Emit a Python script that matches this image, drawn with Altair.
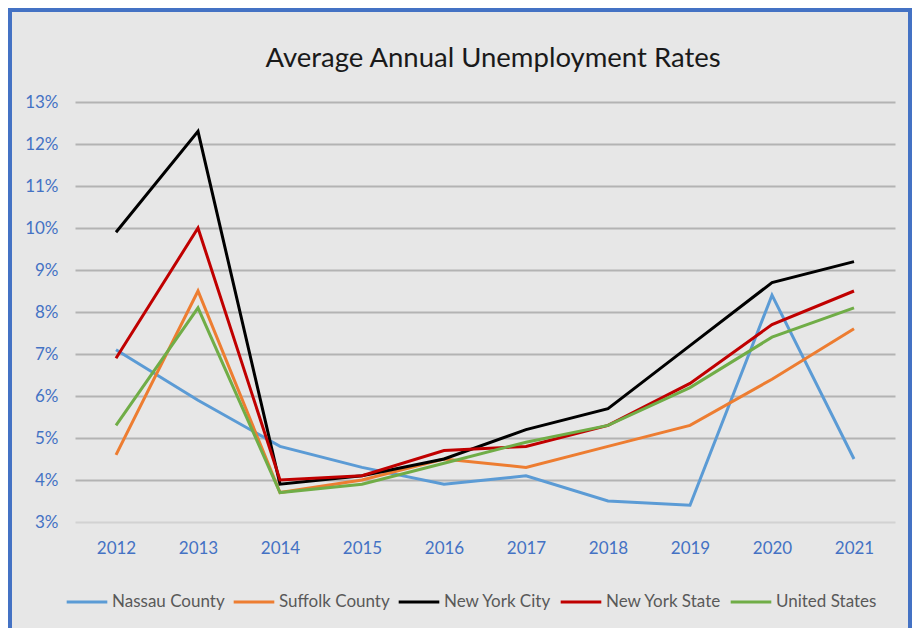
import altair as alt
import pandas as pd

years = ["2012", "2013", "2014", "2015", "2016", "2017", "2018", "2019", "2020", "2021"]
series_names = ["Nassau County", "Suffolk County", "New York City", "New York State", "United States"]
nassau = [7.1, 5.9, 4.8, 4.3, 3.9, 4.1, 3.5, 3.4, 8.4, 4.5]
suffolk = [4.6, 8.5, 3.7, 4.0, 4.5, 4.3, 4.8, 5.3, 6.4, 7.6]
nyc = [9.9, 12.3, 3.9, 4.1, 4.5, 5.2, 5.7, 7.2, 8.7, 9.2]
nys = [6.9, 10.0, 4.0, 4.1, 4.7, 4.8, 5.3, 6.3, 7.7, 8.5]
us = [5.3, 8.1, 3.7, 3.9, 4.4, 4.9, 5.3, 6.2, 7.4, 8.1]
colors = ["#5b9bd5", "#ed7d31", "#000000", "#c00000", "#70ad47"]
y_ticks = [3, 4, 5, 6, 7, 8, 9, 10, 11, 12, 13]
title_text = "Average Annual Unemployment Rates"

rows = []
for name, vals in zip(series_names, [nassau, suffolk, nyc, nys, us]):
    for i, (yr, v) in enumerate(zip(years, vals)):
        rows.append({"Year": yr, "Series": name, "Rate": v, "idx": i})
df = pd.DataFrame(rows)

FONT = "Lato, sans-serif"
W, H = 820, 420
PL, PT = 67, 94
TOTAL_W, TOTAL_H = 904, 620
PR, PB = TOTAL_W - PL - W, TOTAL_H - PT - H

lines = alt.Chart(df).mark_line(strokeWidth=3, clip=False).encode(
    x=alt.X("Year:O", sort=years, title=None,
            scale=alt.Scale(paddingOuter=0.5),
            axis=alt.Axis(labelAngle=0, ticks=False, domain=False, grid=False,
                          labelColor="#4472c4", labelFont=FONT, labelFontSize=17,
                          labelPadding=18)),
    y=alt.Y("Rate:Q", title=None,
            scale=alt.Scale(domain=[3, 13], nice=False, zero=False),
            axis=alt.Axis(values=y_ticks, labelExpr="datum.value + '%'", ticks=False, domain=False,
                          labelColor="#4472c4", labelFont=FONT, labelFontSize=17, labelPadding=17,
                          gridColor={"condition": {"test": "datum.value == 3", "value": "#d2d2d2"}, "value": "#b3b3b3"},
                          gridWidth=2)),
    color=alt.Color("Series:N", sort=series_names,
                    scale=alt.Scale(domain=series_names, range=colors),
                    legend=alt.Legend(title=None, orient="none", direction="horizontal",
                                      legendX=-10, legendY=478,
                                      symbolType="stroke", symbolSize=1650, symbolStrokeWidth=3,
                                      labelFont=FONT, labelFontSize=17, labelColor="#595959",
                                      labelOffset=3, columnPadding=2)),
    order=alt.Order("idx:Q"),
)

dummy = pd.DataFrame({"a": [0]})

border = alt.Chart(dummy).mark_rect(
    fillOpacity=0, stroke="#4472c4", strokeWidth=4, clip=False
).encode(
    x=alt.value(10 - (8 + PL)),
    x2=alt.value(W + PR - 2),
    y=alt.value(10 - (8 + PT)),
    y2=alt.value(H + PB + 20),
)

title = alt.Chart(dummy).mark_text(
    font=FONT, fontSize=27.5, color="#1a1a1a", align="center", baseline="alphabetic", clip=False
).encode(
    x=alt.value(493 - (8 + PL)),
    y=alt.value(67 - (8 + PT)),
    text=alt.value(title_text),
)

chart = alt.layer(border, lines, title).properties(
    width=W, height=H,
    padding={"left": PL, "top": PT, "right": PR, "bottom": PB},
    autosize=alt.AutoSizeParams(type="none"),
    background="#e7e7e7",
).configure_view(stroke=None)

chart.save("out.html", embed_options={"renderer": "svg", "actions": False})
